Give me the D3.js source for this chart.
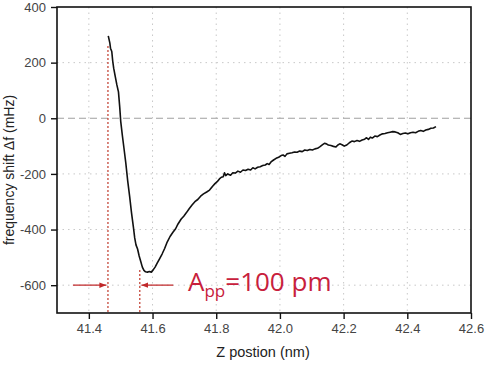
<!DOCTYPE html>
<html lang="en">
<head>
<meta charset="UTF-8">
<title>Frequency shift</title>
<script src="https://d3js.org/d3.v7.min.js"></script>
<style>
  body { margin: 0; background: #fff; }
  text { font-family: "Liberation Sans", Arial, sans-serif; }
</style>
</head>
<body>
<script>
// measured curve: Z position (nm) vs frequency shift (mHz)
var zPos = [41.461,41.466,41.468,41.472,41.475,41.478,41.483,41.488,41.493,41.497,41.500,41.505,41.510,41.516,41.522,41.528,41.534,41.540,41.544,41.548,41.553,41.558,41.563,41.568,41.573,41.578,41.584,41.590,41.596,41.602,41.608,41.615,41.622,41.630,41.638,41.646,41.655,41.664,41.672,41.680,41.690,41.698,41.706,41.715,41.724,41.733,41.742,41.751,41.760,41.770,41.779,41.788,41.796,41.803,41.810,41.816,41.822,41.826,41.830,41.836,41.845,41.852,41.860,41.868,41.876,41.884,41.892,41.900,41.908,41.915,41.922,41.930,41.938,41.946,41.954,41.960,41.966,41.972,41.980,41.988,41.996,42.004,42.010,42.016,42.022,42.030,42.038,42.046,42.054,42.062,42.070,42.078,42.086,42.094,42.102,42.110,42.118,42.126,42.134,42.140,42.146,42.152,42.160,42.168,42.176,42.182,42.188,42.195,42.202,42.210,42.218,42.226,42.234,42.242,42.250,42.258,42.266,42.272,42.278,42.284,42.290,42.298,42.306,42.314,42.322,42.330,42.338,42.346,42.354,42.362,42.370,42.378,42.386,42.394,42.402,42.410,42.418,42.426,42.434,42.442,42.450,42.458,42.466,42.474,42.482,42.490];
var freqShift = [296,270,252,240,205,180,150,120,95,40,-10,-60,-105,-160,-225,-280,-340,-392,-430,-455,-470,-495,-515,-535,-547,-552,-553,-551,-553,-545,-535,-520,-505,-488,-468,-445,-425,-410,-398,-380,-362,-352,-340,-325,-312,-300,-292,-280,-272,-265,-258,-245,-235,-228,-218,-212,-210,-196,-206,-200,-205,-196,-197,-190,-194,-186,-188,-183,-186,-178,-182,-176,-174,-170,-168,-163,-166,-157,-150,-144,-140,-134,-132,-137,-128,-126,-124,-121,-122,-118,-120,-114,-116,-112,-114,-110,-108,-102,-95,-90,-92,-96,-98,-101,-103,-96,-92,-95,-100,-96,-88,-82,-84,-80,-83,-78,-75,-70,-76,-68,-71,-64,-66,-60,-56,-55,-52,-50,-48,-49,-52,-58,-55,-53,-56,-52,-50,-52,-47,-44,-47,-42,-40,-36,-35,-30];

var xTicks = [41.4, 41.6, 41.8, 42.0, 42.2, 42.4, 42.6];
var yTicks = [-600, -400, -200, 0, 200, 400];
var markerZ = [41.46, 41.56];   // red dotted guides
var markerTop = [260, -545];    // where each guide starts
var arrowLevel = -600;

var W = 488, H = 366;
var m = { left: 57, right: 17, top: 7, bottom: 53 };

var svg = d3.select("body").append("svg").attr("width", W).attr("height", H);

var x = d3.scaleLinear().domain([41.3, 42.6]).range([m.left, W - m.right]);
var y = d3.scaleLinear().domain([-700, 400]).range([H - m.bottom, m.top]);

// grid
var grid = svg.append("g");
grid.selectAll("line.gx").data(xTicks.slice(0, -1)).enter().append("line")
  .attr("x1", function (d) { return x(d); }).attr("x2", function (d) { return x(d); })
  .attr("y1", y(400)).attr("y2", y(-700))
  .attr("stroke", "#c8c8c8").attr("stroke-dasharray", "1.5,4");
grid.selectAll("line.gy").data(yTicks.filter(function (d) { return d != 0 && d != 400; })).enter().append("line")
  .attr("x1", x(41.3)).attr("x2", x(42.6))
  .attr("y1", function (d) { return y(d); }).attr("y2", function (d) { return y(d); })
  .attr("stroke", "#c8c8c8").attr("stroke-dasharray", "1.5,4");
grid.append("line")
  .attr("x1", x(41.3)).attr("x2", x(42.6)).attr("y1", y(0)).attr("y2", y(0))
  .attr("stroke", "#a0a0a0").attr("stroke-width", 1.2).attr("stroke-dasharray", "7,4");

// red guides
svg.selectAll("line.guide").data(markerZ).enter().append("line")
  .attr("x1", function (d) { return x(d); }).attr("x2", function (d) { return x(d); })
  .attr("y1", function (d, i) { return y(markerTop[i]); }).attr("y2", y(-700))
  .attr("stroke", "#c0392b").attr("stroke-width", 1.2).attr("stroke-dasharray", "2,2");

// arrows
var defs = svg.append("defs");
defs.append("marker").attr("id", "ah").attr("viewBox", "0 0 10 10")
  .attr("refX", 10).attr("refY", 5).attr("markerWidth", 7).attr("markerHeight", 7)
  .attr("markerUnits", "userSpaceOnUse").attr("orient", "auto")
  .append("path").attr("d", "M0,1 L10,5 L0,9 Z").attr("fill", "#c0282a");
svg.append("line")
  .attr("x1", x(41.35)).attr("x2", x(41.455)).attr("y1", y(arrowLevel)).attr("y2", y(arrowLevel))
  .attr("stroke", "#c0282a").attr("stroke-width", 1.2).attr("marker-end", "url(#ah)");
svg.append("line")
  .attr("x1", x(41.665)).attr("x2", x(41.565)).attr("y1", y(arrowLevel)).attr("y2", y(arrowLevel))
  .attr("stroke", "#c0282a").attr("stroke-width", 1.2).attr("marker-end", "url(#ah)");

var label = svg.append("text").attr("x", 188).attr("y", 291)
  .attr("fill", "#c8203c").attr("font-size", 26).style("font-family", "'Open Sans', sans-serif");
label.append("tspan").text("A");
label.append("tspan").attr("dy", 6).attr("font-size", 17).text("pp");
label.append("tspan").attr("dy", -6).text("=100 pm");

// curve
var pts = zPos.map(function (d, i) { return [d, freqShift[i]]; });
svg.append("path").datum(pts)
  .attr("fill", "none").attr("stroke", "#111").attr("stroke-width", 1.6)
  .attr("stroke-linejoin", "round")
  .attr("d", d3.line().x(function (d) { return x(d[0]); }).y(function (d) { return y(d[1]); }));

// frame
svg.append("rect").attr("x", m.left).attr("y", m.top)
  .attr("width", W - m.left - m.right).attr("height", H - m.top - m.bottom)
  .attr("fill", "none").attr("stroke", "#111").attr("stroke-width", 1.6);

// axes
var xMinor = d3.range(41.3, 42.61, 0.1);
var gx = svg.append("g").attr("transform", "translate(0," + (H - m.bottom) + ")");
gx.call(d3.axisBottom(x).tickValues(xMinor).tickSize(3).tickFormat(""));
gx.call(d3.axisBottom(x).tickValues(xTicks).tickSize(6).tickPadding(5).tickFormat(d3.format(".1f")));
gx.select(".domain").remove();
gx.selectAll("line").attr("stroke", "#111").attr("stroke-width", 1.4);
gx.selectAll("text").attr("font-size", 13).attr("fill", "#444").style("font-family", "'Liberation Sans', Arial, sans-serif");

var gy = svg.append("g").attr("transform", "translate(" + m.left + ",0)");
gy.call(d3.axisLeft(y).tickValues(d3.range(-700, 401, 100)).tickSize(3).tickFormat(""));
gy.call(d3.axisLeft(y).tickValues(yTicks).tickSize(6).tickPadding(5).tickFormat(function (d) { return String(d); }));
gy.select(".domain").remove();
gy.selectAll("line").attr("stroke", "#111").attr("stroke-width", 1.4);
gy.selectAll("text").attr("font-size", 13).attr("fill", "#444").style("font-family", "'Liberation Sans', Arial, sans-serif");

svg.append("text").attr("x", 263).attr("y", 357).attr("text-anchor", "middle")
  .attr("font-size", 14.5).attr("fill", "#222").text("Z postion (nm)");
svg.append("text").attr("transform", "translate(14,170) rotate(-90)").attr("text-anchor", "middle")
  .attr("font-size", 14).attr("fill", "#222").text("frequency shift \u0394f (mHz)");
</script>
</body>
</html>
